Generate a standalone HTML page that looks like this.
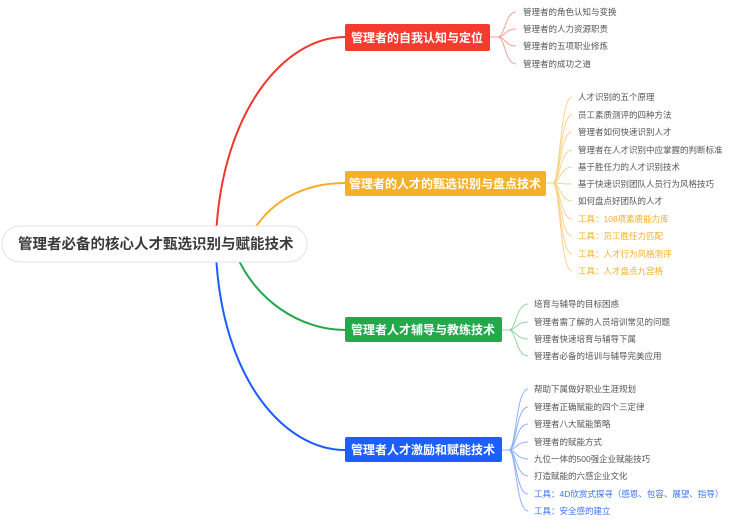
<!DOCTYPE html>
<html><head><meta charset="utf-8"><style>
html,body{margin:0;padding:0;background:#fff;}
svg text{font-family:"Liberation Sans","Noto Sans CJK SC",sans-serif;}
</style></head><body>
<svg width="742" height="524" viewBox="0 0 742 524" xmlns="http://www.w3.org/2000/svg">
<g fill="none" stroke-width="2">
<path d="M216 236 C 222 110, 285 37, 345 37" stroke="#f0372c"/>
<path d="M250 236 C 270 200, 305 183, 345 183" stroke="#f5ae26"/>
<path d="M236 254 C 255 300, 300 330, 345 330" stroke="#22a84a"/>
<path d="M216 254 C 222 380, 285 450, 345 450" stroke="#1a5cff"/>
</g>
<rect x="2" y="226" width="305" height="36" rx="18" fill="#fff" stroke="#e2e2e2"/>
<text x="18" y="249" font-size="14.5" font-weight="bold" fill="#3a3a3a">管理者必备的核心人才甄选识别与赋能技术</text>

<rect x="345" y="24" width="145" height="27" rx="2" fill="#f53b2e"/>
<text x="417" y="42" font-size="12" font-weight="bold" fill="#fff" text-anchor="middle">管理者的自我认知与定位</text>
<rect x="345" y="171" width="201" height="25" rx="2" fill="#f5b02a"/>
<text x="445" y="188" font-size="12" font-weight="bold" fill="#fff" text-anchor="middle">管理者的人才的甄选识别与盘点技术</text>
<rect x="345" y="317" width="157" height="25" rx="2" fill="#23a94c"/>
<text x="423" y="334" font-size="12" font-weight="bold" fill="#fff" text-anchor="middle">管理者人才辅导与教练技术</text>
<rect x="345" y="437" width="157" height="25" rx="2" fill="#1d5ffc"/>
<text x="423" y="454" font-size="12" font-weight="bold" fill="#fff" text-anchor="middle">管理者人才激励和赋能技术</text>

<g fill="none" stroke-width="1" stroke="#f7a29a">
<path d="M490 37 H498"/>
<path d="M498 37 C505 37,505 12,516 12"/><path d="M498 37 C505 37,505 29,516 29"/><path d="M498 37 C505 37,505 46,516 46"/><path d="M498 37 C505 37,505 64,516 64"/>
</g>
<g font-size="8.5" fill="#555">
<text x="523" y="15">管理者的角色认知与变换</text>
<text x="523" y="32">管理者的人力资源职责</text>
<text x="523" y="49">管理者的五项职业修炼</text>
<text x="523" y="67">管理者的成功之道</text>
</g>

<g fill="none" stroke-width="1" stroke="#f8d38a">
<path d="M546 183 H553"/>
<path d="M553 183 C560 183,560 97,572 97"/><path d="M553 183 C560 183,560 115,572 115"/><path d="M553 183 C560 183,560 132,572 132"/><path d="M553 183 C560 183,560 150,572 150"/><path d="M553 183 C560 183,560 167,572 167"/><path d="M553 183 C560 183,560 184,572 184"/><path d="M553 183 C560 183,560 201,572 201"/><path d="M553 183 C560 183,560 219,572 219"/><path d="M553 183 C560 183,560 236,572 236"/><path d="M553 183 C560 183,560 254,572 254"/><path d="M553 183 C560 183,560 271,572 271"/>
</g>
<g font-size="8.5" fill="#555">
<text x="578" y="100">人才识别的五个原理</text>
<text x="578" y="118">员工素质测评的四种方法</text>
<text x="578" y="135">管理者如何快速识别人才</text>
<text x="578" y="153">管理者在人才识别中应掌握的判断标准</text>
<text x="578" y="170">基于胜任力的人才识别技术</text>
<text x="578" y="187">基于快速识别团队人员行为风格技巧</text>
<text x="578" y="204">如何盘点好团队的人才</text>
</g>
<g font-size="8.5" fill="#f5ae26">
<text x="578" y="222">工具：108项素质能力库</text>
<text x="578" y="239">工具：员工胜任力匹配</text>
<text x="578" y="257">工具：人才行为风格测评</text>
<text x="578" y="274">工具：人才盘点九宫格</text>
</g>

<g fill="none" stroke-width="1" stroke="#8fd6a3">
<path d="M502 330 H509"/>
<path d="M509 330 C516 330,516 304,528 304"/><path d="M509 330 C516 330,516 322,528 322"/><path d="M509 330 C516 330,516 339,528 339"/><path d="M509 330 C516 330,516 356,528 356"/>
</g>
<g font-size="8.5" fill="#555">
<text x="534" y="307">培育与辅导的目标困惑</text>
<text x="534" y="325">管理者需了解的人员培训常见的问题</text>
<text x="534" y="342">管理者快速培育与辅导下属</text>
<text x="534" y="359">管理者必备的培训与辅导完美应用</text>
</g>

<g fill="none" stroke-width="1" stroke="#8fb0ff">
<path d="M502 450 H509"/>
<path d="M509 450 C516 450,516 389,528 389"/><path d="M509 450 C516 450,516 407,528 407"/><path d="M509 450 C516 450,516 424,528 424"/><path d="M509 450 C516 450,516 442,528 442"/><path d="M509 450 C516 450,516 459,528 459"/><path d="M509 450 C516 450,516 476,528 476"/><path d="M509 450 C516 450,516 494,528 494"/><path d="M509 450 C516 450,516 511,528 511"/>
</g>
<g font-size="8.5" fill="#555">
<text x="534" y="392">帮助下属做好职业生涯规划</text>
<text x="534" y="410">管理者正确赋能的四个三定律</text>
<text x="534" y="427">管理者八大赋能策略</text>
<text x="534" y="445">管理者的赋能方式</text>
<text x="534" y="462">九位一体的500强企业赋能技巧</text>
<text x="534" y="479">打造赋能的六感企业文化</text>
</g>
<g font-size="8.5" fill="#3a6ff5">
<text x="534" y="497">工具：4D欣赏式探寻（感恩、包容、展望、指导）</text>
<text x="534" y="514">工具：安全感的建立</text>
</g>
</svg>
</body></html>
